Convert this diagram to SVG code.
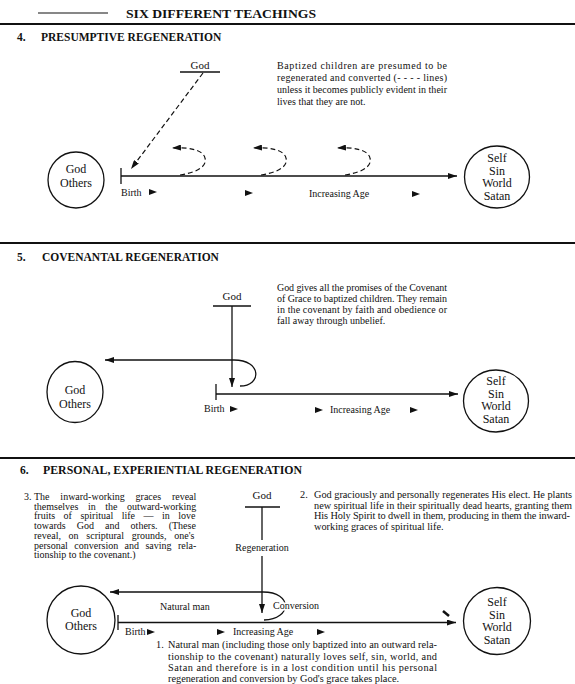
<svg xmlns="http://www.w3.org/2000/svg" width="575" height="684" viewBox="0 0 575 684">
<style>
text{font-family:"Liberation Serif","Times New Roman",serif;fill:#111}
.t{font-weight:bold;font-size:13.5px}
.h{font-weight:bold;font-size:11.5px}
.p{font-size:10px}
.p3{font-size:10px}
.p2{font-size:10.3px}
.l{font-size:10px}
.c{font-size:12px;text-anchor:middle}
.c2{font-size:12px;text-anchor:middle}
.ln{stroke:#111;stroke-width:1.3;fill:none}
.rule{stroke:#111;stroke-width:2}
.node{fill:#fff;stroke:#111;stroke-width:1.3}
.dash{stroke:#111;stroke-width:1.2;fill:none;stroke-dasharray:5 3}
.arr{marker-end:url(#ah)}
.halo{stroke:#fff;stroke-width:3;paint-order:stroke}
</style>
<defs>
<marker id="ah" markerWidth="9" markerHeight="6" refX="9" refY="3" orient="auto" markerUnits="userSpaceOnUse"><path d="M0,0 L9,3 L0,6 z" fill="#111"/></marker>
<path id="tri" d="M0,-3 L8,0 L0,3 z" fill="#111"/>
</defs>
<rect width="575" height="684" fill="#fff"/>

<g id="headings">
<line x1="38" y1="13" x2="108" y2="13" stroke="#111" stroke-width="1.2"/>
<text class="t" x="126" y="18" textLength="190" lengthAdjust="spacingAndGlyphs">SIX DIFFERENT TEACHINGS</text>
<line class="rule" x1="0" y1="24" x2="575" y2="24"/>
<text class="h" x="17" y="41">4.</text>
<text class="h" x="41" y="41">PRESUMPTIVE REGENERATION</text>
<line class="rule" x1="0" y1="243" x2="575" y2="243"/>
<text class="h" x="17" y="261">5.</text>
<text class="h" x="42" y="261">COVENANTAL REGENERATION</text>
<line class="rule" x1="0" y1="458" x2="575" y2="458"/>
<text class="h" x="20" y="474">6.</text>
<text class="h" x="43" y="474" textLength="259" lengthAdjust="spacingAndGlyphs">PERSONAL, EXPERIENTIAL REGENERATION</text>
</g>

<!-- Section 4 -->
<g id="s4-god">
<text class="c" x="200" y="69" style="font-size:11px">God</text>
<line x1="180" y1="72" x2="220" y2="72" stroke="#111" stroke-width="1.3"/>
</g>
<g id="s4-others">
<circle class="node" cx="76" cy="180" r="28"/>
<text class="c" x="76" y="173">God</text>
<text class="c" x="76" y="187">Others</text>
</g>
<g id="s4-self">
<ellipse class="node" cx="497" cy="177" rx="32.5" ry="31"/>
<text class="c2" x="497" y="162">Self</text>
<text class="c2" x="497" y="174.5">Sin</text>
<text class="c2" x="497" y="187">World</text>
<text class="c2" x="497" y="199.5">Satan</text>
</g>
<g id="s4-text">
<text class="p" x="277" y="69" textLength="170" lengthAdjust="spacing">Baptized children are presumed to be</text>
<text class="p" x="277" y="81" textLength="170" lengthAdjust="spacing">regenerated and converted (- - - - lines)</text>
<text class="p" x="277" y="93" textLength="170" lengthAdjust="spacing">unless it becomes publicly evident in their</text>
<text class="p" x="277" y="105">lives that they are not.</text>
</g>
<g id="s4-labels">
<text class="l" x="121" y="196">Birth</text>
<text class="l" x="309" y="197">Increasing Age</text>
</g>
<g id="s4-connectors">
<line x1="121" y1="168" x2="121" y2="184" class="ln"/>
<path class="ln arr" d="M121 176 H457"/>
<path class="dash arr" d="M203 73 L131 169"/>
<path class="dash arr" d="M180 175 C200 172 207 165 205 158 C203 150 190 147 172 148"/>
<path class="dash arr" d="M261 175 C281 172 288 165 286 158 C284 150 271 147 253 148"/>
<path class="dash arr" d="M345 175 C365 172 372 165 370 158 C368 150 355 147 337 148"/>
<use href="#tri" x="149" y="192"/>
<use href="#tri" x="245" y="193"/>
<use href="#tri" x="412" y="194"/>
</g>

<!-- Section 5 -->
<g id="s5-god">
<text class="c" x="232" y="300" style="font-size:11px">God</text>
<line x1="213" y1="306" x2="251" y2="306" stroke="#111" stroke-width="1.3"/>
</g>
<g id="s5-others">
<ellipse class="node" cx="75" cy="392" rx="28" ry="30.5"/>
<text class="c" x="75" y="394">God</text>
<text class="c" x="75" y="408">Others</text>
</g>
<g id="s5-self">
<ellipse class="node" cx="496" cy="401" rx="32.5" ry="31"/>
<text class="c2" x="496" y="385">Self</text>
<text class="c2" x="496" y="397.5">Sin</text>
<text class="c2" x="496" y="410">World</text>
<text class="c2" x="496" y="422.5">Satan</text>
</g>
<g id="s5-text">
<text class="p" x="277" y="291" textLength="170" lengthAdjust="spacing">God gives all the promises of the Covenant</text>
<text class="p" x="277" y="302" textLength="170" lengthAdjust="spacing">of Grace to baptized children. They remain</text>
<text class="p" x="277" y="313" textLength="170" lengthAdjust="spacing">in the covenant by faith and obedience or</text>
<text class="p" x="277" y="324">fall away through unbelief.</text>
</g>
<g id="s5-labels">
<text class="l" x="204" y="412">Birth</text>
<text class="l" x="330" y="413">Increasing Age</text>
</g>
<g id="s5-connectors">
<line x1="216" y1="384" x2="216" y2="400" class="ln"/>
<path class="ln arr" d="M216 394 H458"/>
<path class="ln arr" d="M232 306 V387"/>
<path class="ln arr" d="M234 360 H105"/>
<path class="ln" d="M234 360 C262 360 262 386 240 386"/>
<use href="#tri" x="230" y="409"/>
<use href="#tri" x="315" y="410"/>
<use href="#tri" x="410" y="410"/>
</g>

<!-- Section 6 -->
<g id="s6-god">
<text class="c" x="262" y="499" style="font-size:11px">God</text>
<line x1="245" y1="507" x2="280" y2="507" stroke="#111" stroke-width="1.3"/>
</g>
<g id="s6-others">
<circle class="node" cx="81" cy="620" r="34"/>
<text class="c" x="81" y="617">God</text>
<text class="c" x="81" y="630">Others</text>
</g>
<g id="s6-self">
<circle class="node" cx="497" cy="621" r="33.5"/>
<text class="c2" x="497" y="606">Self</text>
<text class="c2" x="497" y="618.5">Sin</text>
<text class="c2" x="497" y="631">World</text>
<text class="c2" x="497" y="643.5">Satan</text>
</g>
<g id="s6-text3">
<text class="p3" x="24" y="500">3.</text>
<text class="p3"><tspan x="34" y="500" style="word-spacing:8.3px">The inward-working graces reveal</tspan><tspan x="34" y="509.7" style="word-spacing:7px">themselves in the outward-working</tspan><tspan x="34" y="519.4" style="word-spacing:6px">fruits of spiritual life — in love</tspan><tspan x="34" y="529.1" style="word-spacing:8.6px">towards God and others. (These</tspan><tspan x="34" y="538.8" style="word-spacing:5.2px">reveal, on scriptural grounds, one's</tspan><tspan x="34" y="548.5" style="word-spacing:3.9px">personal conversion and saving rela-</tspan><tspan x="34" y="558.2">tionship to the covenant.)</tspan></text>
</g>
<g id="s6-text2">
<text class="p2" x="300" y="498">2.</text>
<text class="p2" x="314" y="498" textLength="258" lengthAdjust="spacing">God graciously and personally regenerates His elect. He plants</text>
<text class="p2" x="314" y="508.5" textLength="258" lengthAdjust="spacing">new spiritual life in their spiritually dead hearts, granting them</text>
<text class="p2" x="314" y="519" textLength="256" lengthAdjust="spacing">His Holy Spirit to dwell in them, producing in them the inward-</text>
<text class="p2" x="314" y="529.5">working graces of spiritual life.</text>
</g>
<g id="s6-text1">
<text class="p2" x="156" y="648">1.</text>
<text class="p2" x="168" y="648" textLength="269" lengthAdjust="spacing">Natural man (including those only baptized into an outward rela-</text>
<text class="p2" x="168" y="659.5" textLength="269" lengthAdjust="spacing">tionship to the covenant) naturally loves self, sin, world, and</text>
<text class="p2" x="168" y="671" textLength="269" lengthAdjust="spacing">Satan and therefore is in a lost condition until his personal</text>
<text class="p2" x="168" y="682">regeneration and conversion by God's grace takes place.</text>
</g>
<g id="s6-connectors">
<line x1="118" y1="615" x2="118" y2="630" class="ln"/>
<path class="ln arr" d="M118 622.5 H456"/>
<path class="ln" d="M262 507 V540"/>
<path class="ln arr" d="M262 556 V613"/>
<path class="ln arr" d="M263 592 H110"/>
<path class="ln" d="M263 592 C293 592 292 619 264 620"/>
<line x1="443" y1="611" x2="449" y2="616" stroke="#111" stroke-width="2.5"/>
<use href="#tri" x="147" y="632"/>
<use href="#tri" x="217" y="632"/>
<use href="#tri" x="317" y="632"/>
</g>
<g id="s6-labels">
<text class="l" x="262" y="551" text-anchor="middle">Regeneration</text>
<text class="l" x="160" y="610">Natural man</text>
<text class="l halo" x="273" y="609">Conversion</text>
<text class="l" x="125" y="635">Birth</text>
<text class="l" x="233" y="635">Increasing Age</text>
</g>
</svg>
